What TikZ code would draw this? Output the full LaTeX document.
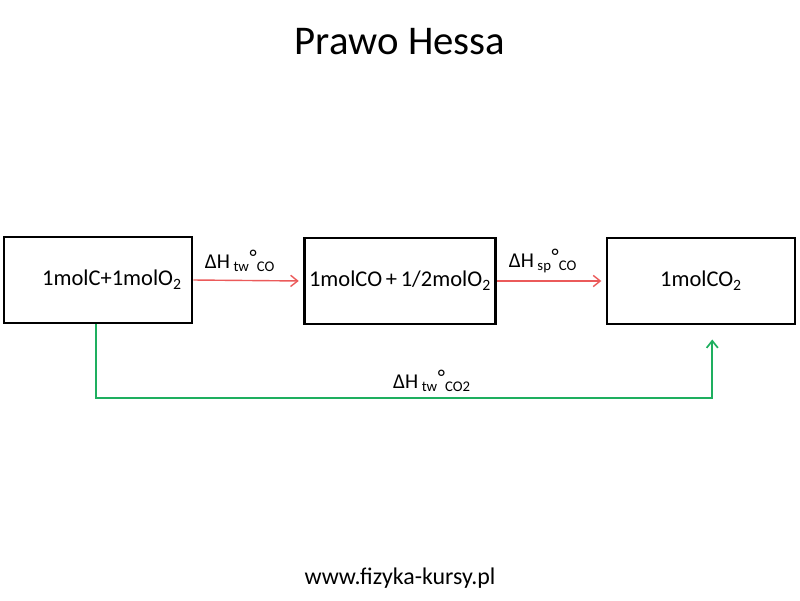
\documentclass[tikz,border=0pt]{standalone}
\usepackage{fontspec}
\setmainfont{Carlito}
\usetikzlibrary{arrows.meta}

\definecolor{hessred}{RGB}{235,90,90}
\definecolor{hessgreen}{RGB}{30,175,95}

\newcommand{\dHlab}[2]{ΔH\,\textsubscript{#1}\raisebox{0.45ex}{°}\textsubscript{#2}}

\tikzset{
  molbox/.style={draw=black, line width=2pt, minimum width=4.7cm, minimum height=2.15cm, font=\fontsize{16}{19}\selectfont},
  redstep/.style={hessred, line width=1pt, -{Straight Barb[length=5pt,width=8pt]}, shorten >=3pt},
  greenstep/.style={hessgreen, line width=1.2pt, -{Straight Barb[length=5pt,width=8pt]}},
  dhlabel/.style={font=\fontsize{15}{17}\selectfont}
}

\begin{document}
\begin{tikzpicture}[x=0.025cm, y=-0.025cm]

  \useasboundingbox (0,0) rectangle (800,600);

  % --- Title ---
  \node[font=\fontsize{29}{34}\selectfont] (title) at (400,42) {Prawo Hessa};

  % --- Boxes ---
  \node[molbox] (start) at (98,280) {\hspace*{0.7cm}1molC+1molO\textsubscript{2}};
  \node[molbox] (mid) at (400,281) {1molCO\,+\,1/2molO\textsubscript{2}};
  \node[molbox] (end) at (701,281) {1molCO\textsubscript{2}};

  % --- Two-step path (red) ---
  \draw[redstep] (start.east) -- (mid.west);
  \node[dhlabel] (dh1) at (240,261) {\dHlab{tw}{CO}};
  \draw[redstep] (mid.east) -- (end.west);
  \node[dhlabel] (dh2) at (543,261) {\dHlab{sp}{CO}};

  % --- Direct path (green) ---
  \coordinate (lowleft) at (96,398);
  \draw[greenstep] (start.south -| lowleft) -- (lowleft) -| ([xshift=8, yshift=-10]end.south);
  \node[dhlabel] (dh3) at (432,381) {\dHlab{tw}{CO2}};

  % --- Footer ---
  \node[font=\fontsize{17}{20}\selectfont] (site) at (400,578) {www.fizyka-kursy.pl};

\end{tikzpicture}
\end{document}
